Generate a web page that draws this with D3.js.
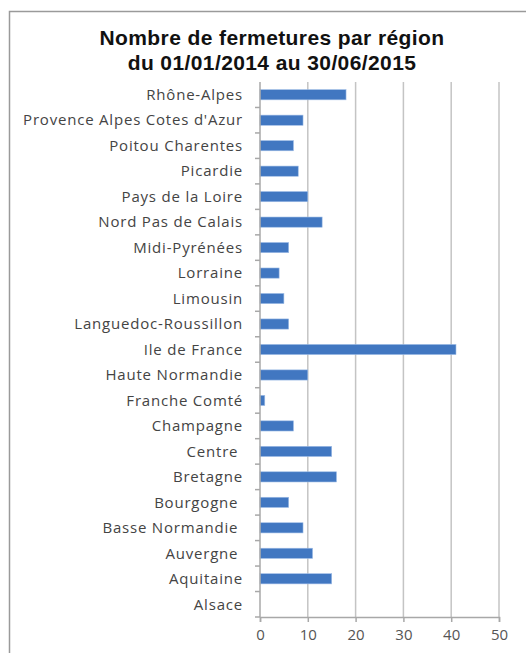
<!DOCTYPE html>
<html>
<head>
<meta charset="utf-8">
<script src="https://cdn.jsdelivr.net/npm/d3@7"></script>
<style>
  body { margin: 0; background: #fff; }
  svg { display: block; }
</style>
</head>
<body>
<script>
// regions, top to bottom as in the picture
const regions = ["Rhône-Alpes", "Provence Alpes Cotes d'Azur", "Poitou Charentes", "Picardie",
  "Pays de la Loire", "Nord Pas de Calais", "Midi-Pyrénées", "Lorraine", "Limousin",
  "Languedoc-Roussillon", "Ile de France", "Haute Normandie", "Franche Comté", "Champagne",
  "Centre ", "Bretagne", "Bourgogne ", "Basse Normandie ", "Auvergne ", "Aquitaine", "Alsace"];
const closures = [18, 9, 7, 8, 10, 13, 6, 4, 5, 6, 41, 10, 1, 7, 15, 16, 6, 9, 11, 15, 0];
const xTicks = [0, 10, 20, 30, 40, 50];
const titleLines = ["Nombre de fermetures par région", "du 01/01/2014 au 30/06/2015"];

const width = 526, height = 653;
const margin = {left: 260, right: 27, top: 82, bottom: 36};

const svg = d3.select("body").append("svg").attr("width", width).attr("height", height);

// outer frame
svg.append("rect")
   .attr("x", 9.5).attr("y", 11.5)
   .attr("width", 700).attr("height", 800)
   .attr("fill", "none").attr("stroke", "#9a9a9a").attr("stroke-width", 1.5);

// title
svg.append("text")
   .attr("x", 272).attr("text-anchor", "middle")
   .style("font-family", "Liberation Sans, Arial").style("font-weight", "bold")
   .style("font-size", "21px").style("letter-spacing", "0.4px").attr("fill", "#111")
   .selectAll("tspan").data(titleLines).enter().append("tspan")
   .attr("x", 272).attr("y", (d, i) => 45 + i * 25)
   .text(d => d);

const xScale = d3.scaleLinear().domain([0, 50]).range([margin.left, width - margin.right]);
const yScale = d3.scaleBand().domain(regions).range([margin.top, height - margin.bottom]).paddingInner(0.6).paddingOuter(0.3);
const yBand = d3.scaleBand().domain(regions).range([margin.top, height - margin.bottom]);

const plotBottom = height - margin.bottom;

// gridlines
svg.append("g").selectAll("line").data(xTicks.slice(1)).enter().append("line")
   .attr("x1", d => xScale(d)).attr("x2", d => xScale(d))
   .attr("y1", margin.top).attr("y2", plotBottom)
   .attr("stroke", "#c4c4c4").attr("stroke-width", 1.5);

// bars
svg.append("g").selectAll("rect").data(regions).enter().append("rect")
   .attr("x", xScale(0))
   .attr("y", d => yScale(d))
   .attr("width", (d, i) => xScale(closures[i]) - xScale(0))
   .attr("height", yScale.bandwidth())
   .attr("fill", "#4177c1")
   .attr("stroke", "#9fbde6").attr("stroke-width", 0.6);

// x axis
const xAxis = svg.append("g")
   .attr("transform", `translate(0, ${plotBottom})`)
   .call(d3.axisBottom(xScale).tickValues(xTicks).tickSize(5).tickPadding(7));
xAxis.select(".domain").attr("stroke", "#a8a8a8").attr("stroke-width", 1.5);
xAxis.selectAll(".tick line").attr("stroke", "#a8a8a8").attr("stroke-width", 1.5);
xAxis.selectAll(".tick text")
   .style("font-family", "Open Sans, sans-serif").style("font-size", "15px").attr("fill", "#555");

// y axis: ticks at band boundaries, labels centred in bands
const yAxisG = svg.append("g");
yAxisG.append("line")
   .attr("x1", xScale(0)).attr("x2", xScale(0))
   .attr("y1", margin.top).attr("y2", plotBottom)
   .attr("stroke", "#a8a8a8").attr("stroke-width", 1.5);
yAxisG.selectAll("line.tick").data(regions).enter().append("line")
   .attr("class", "tick")
   .attr("x1", xScale(0) - 5).attr("x2", xScale(0))
   .attr("y1", d => yBand(d) + yBand.bandwidth()).attr("y2", d => yBand(d) + yBand.bandwidth())
   .attr("stroke", "#a8a8a8").attr("stroke-width", 1.5);
yAxisG.selectAll("text").data(regions).enter().append("text")
   .attr("x", xScale(0) - 17)
   .attr("y", d => yBand(d) + yBand.bandwidth() / 2)
   .attr("dy", "0.35em")
   .attr("text-anchor", "end")
   .style("white-space", "pre")
   .style("font-family", "Open Sans, sans-serif").style("font-size", "15px")
   .style("letter-spacing", "0.8px")
   .attr("fill", "#444")
   .text(d => d);
</script>
</body>
</html>
